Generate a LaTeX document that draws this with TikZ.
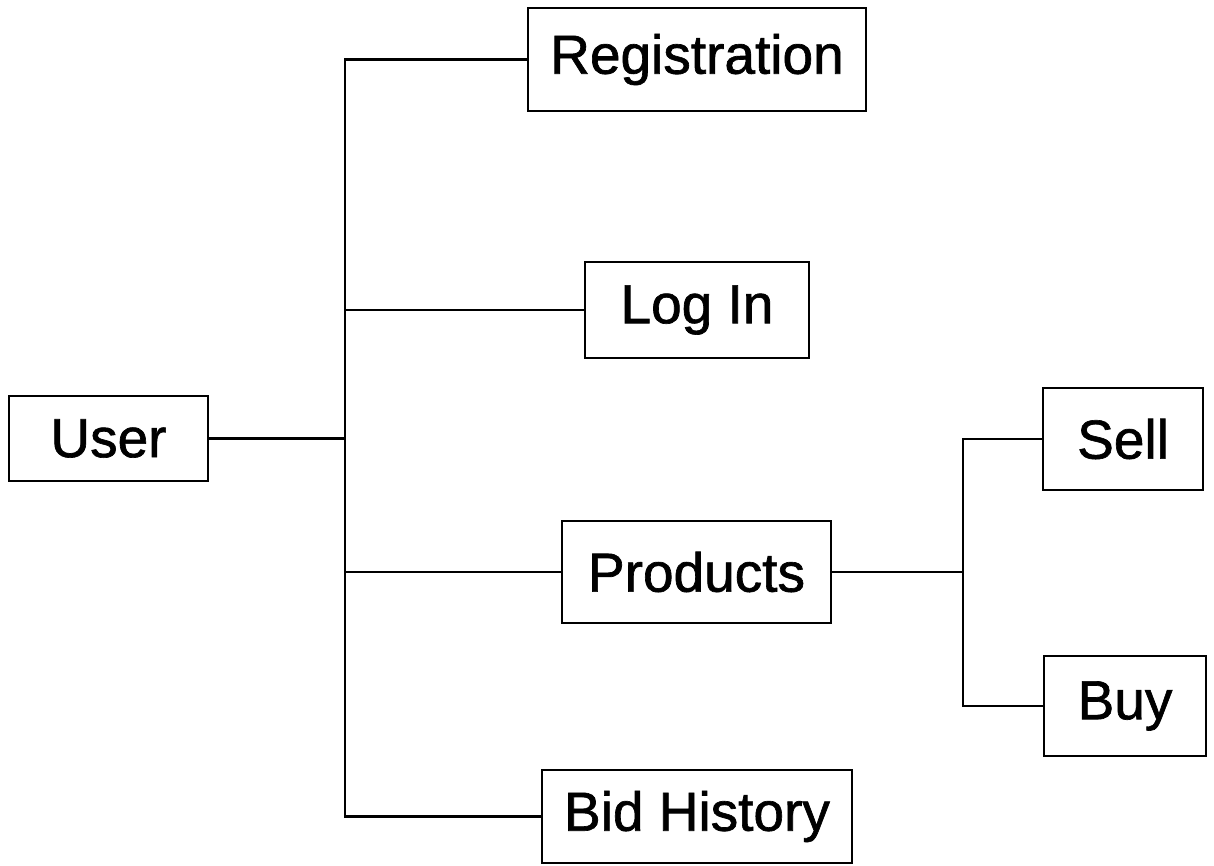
\documentclass[tikz,border=0pt]{standalone}
\usepackage{fontspec}
\setmainfont[FakeBold=1.2]{Liberation Sans}
\begin{document}
\begin{tikzpicture}[x=0.5pt,y=-0.5pt,
  box/.style={draw, line width=1.1pt, inner sep=0pt, font=\fontsize{27.5}{31}\selectfont},
  conn/.style={line width=1.2pt}]
\useasboundingbox[fill=white] (0,0) rectangle (1214,866);
\node[box, minimum width=169pt, minimum height=51.5pt] (reg) at (697,59.5) {Registration};
\node[box, minimum width=112pt, minimum height=48pt] (login) at (697,310) {Log In};
\node[box, minimum width=99.5pt, minimum height=42.5pt] (user) at (108.5,438.5) {User};
\node[box, minimum width=134.5pt, minimum height=51pt] (prod) at (696.5,572) {Products};
\node[box, minimum width=80pt, minimum height=51pt] (sell) at (1123,439) {Sell};
\node[box, minimum width=81pt, minimum height=50pt] (buy) at (1125,706) {Buy};
\node[box, minimum width=155pt, minimum height=46.5pt] (bid) at (697,816.5) {Bid History};
\coordinate (j) at (345,0);
\coordinate (k) at (963,0);
\draw[conn] (reg.west) -| (j |- bid.west) -- (bid.west);
\draw[conn] (login.west) -- (login.west -| j);
\draw[conn] (user.east) -- (user.east -| j);
\draw[conn] (prod.west) -- (prod.west -| j);
\draw[conn] (sell.west) -| (k |- buy.west) -- (buy.west);
\draw[conn] (prod.east) -- (prod.east -| k);
\end{tikzpicture}
\end{document}
